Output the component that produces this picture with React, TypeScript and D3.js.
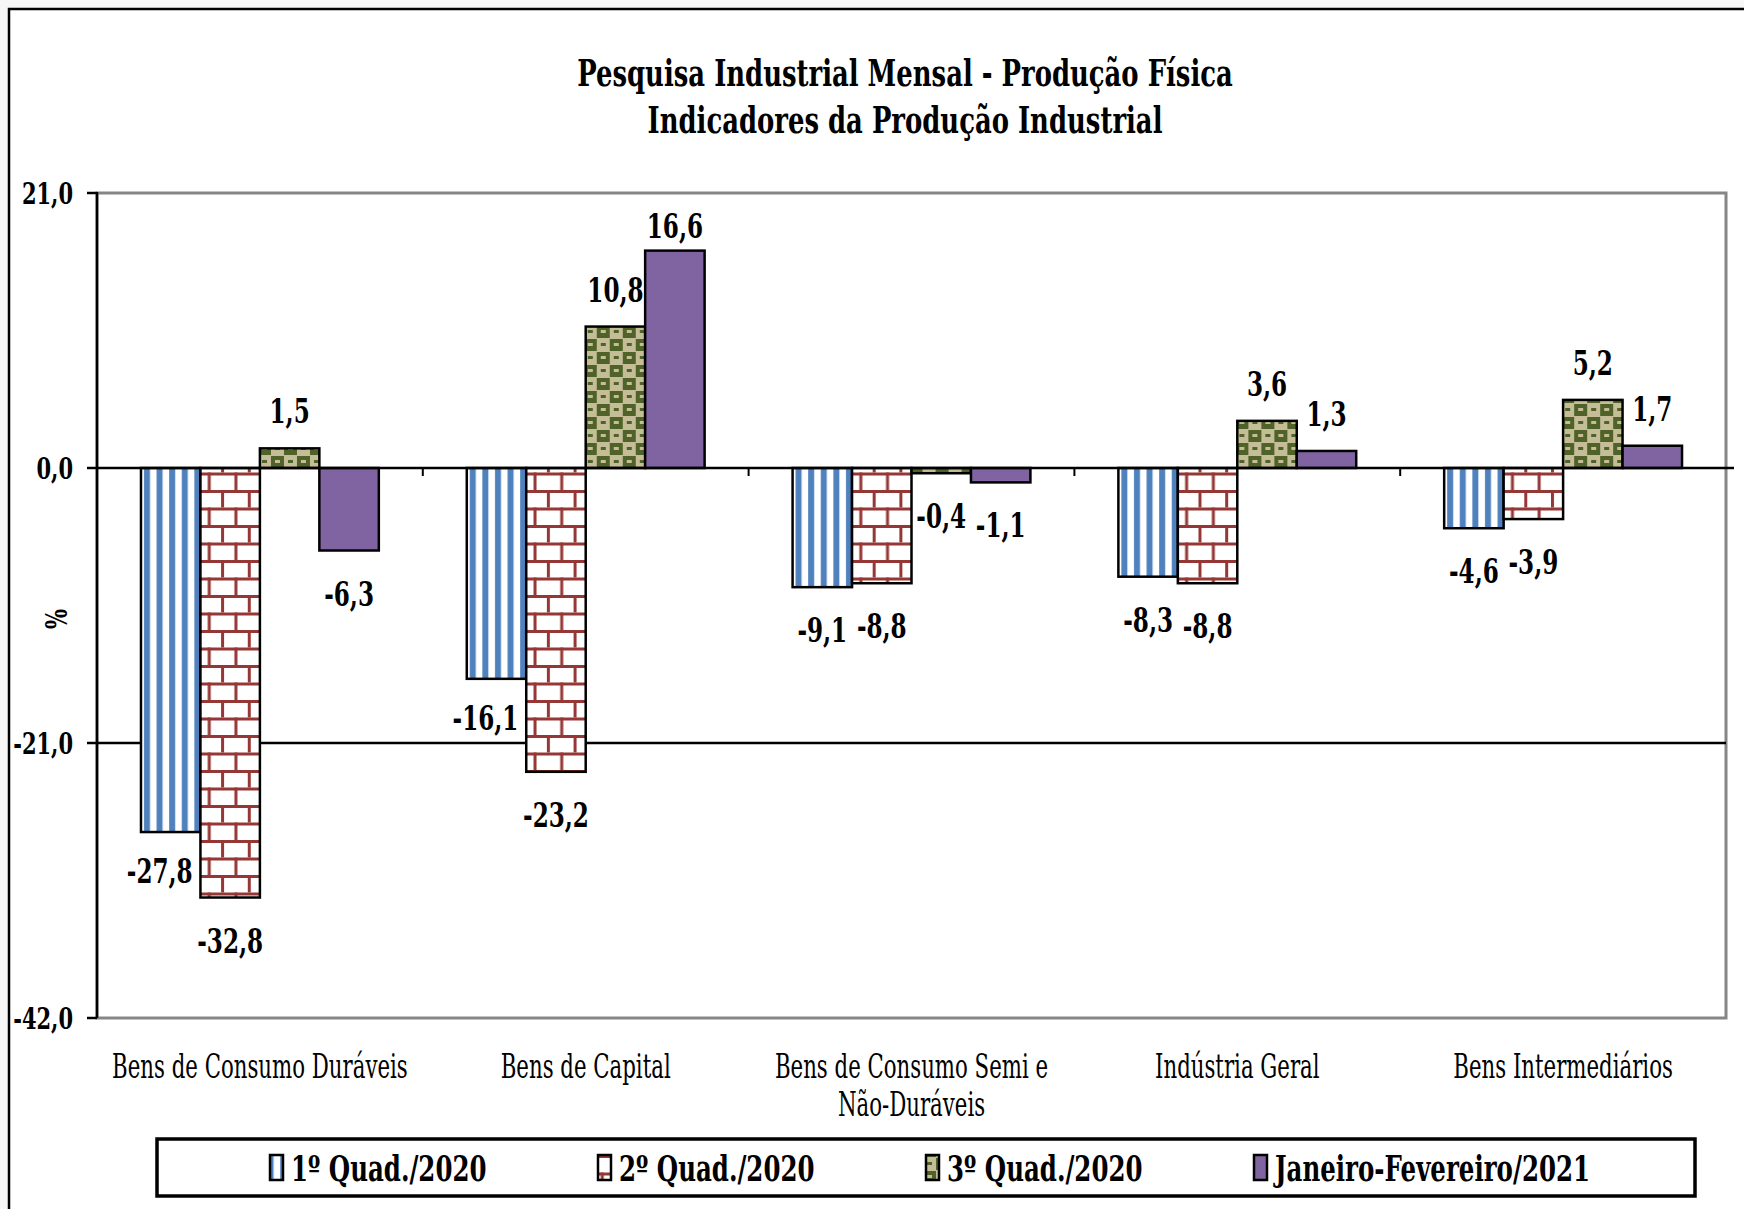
import React from 'react';
import * as d3 from 'd3';

// categories (x axis) and the line breaks used under the axis
const categories = [
  'Bens de Consumo Duráveis',
  'Bens de Capital',
  'Bens de Consumo Semi e Não-Duráveis',
  'Indústria Geral',
  'Bens Intermediários',
];
const categoryLines = [
  ['Bens de Consumo Duráveis'],
  ['Bens de Capital'],
  ['Bens de Consumo Semi e', 'Não-Duráveis'],
  ['Indústria Geral'],
  ['Bens Intermediários'],
];

const seriesNames = ['1º Quad./2020', '2º Quad./2020', '3º Quad./2020', 'Janeiro-Fevereiro/2021'];
const q1_2020 = [-27.8, -16.1, -9.1, -8.3, -4.6];
const q2_2020 = [-32.8, -23.2, -8.8, -8.8, -3.9];
const q3_2020 = [1.5, 10.8, -0.4, 3.6, 5.2];
const janFev2021 = [-6.3, 16.6, -1.1, 1.3, 1.7];
const yTicks = [21, 0, -21, -42];

const seriesValues = [q1_2020, q2_2020, q3_2020, janFev2021];
const seriesFill = ['url(#pStripe)', 'url(#pBrick)', 'url(#pCheck)', '#8064A2'];

const W = 1744;
const H = 1209;
const margin = { left: 97, right: 18, top: 193, bottom: 191 };
const FONT = '"DejaVu Serif", serif';

const fmt = (v: number) => d3.format('.1f')(v).replace('.', ',').replace('−', '-');

// horizontal squeeze, the original font is a narrow one
const SQ = 0.7;

const Txt: React.FC<{
  x: number; y: number; size: number; bold?: boolean; anchor?: string; sq?: number; children: React.ReactNode;
}> = ({ x, y, size, bold, anchor = 'middle', sq = SQ, children }) => (
  <text
    transform={`translate(${x},${y}) scale(${sq},1)`}
    textAnchor={anchor}
    fontFamily={FONT}
    fontSize={size}
    fontWeight={bold ? 'bold' : 'normal'}
    fill="#000"
  >
    {children}
  </text>
);

const App: React.FC = () => {
  const plotRight = W - margin.right;
  const plotBottom = H - margin.bottom;

  const x0 = d3.scaleBand<string>()
    .domain(categories)
    .range([margin.left, plotRight])
    .paddingInner(0.27)
    .paddingOuter(0.135);

  const x1 = d3.scaleBand<string>()
    .domain(seriesNames)
    .range([0, x0.bandwidth()]);

  const y = d3.scaleLinear()
    .domain([-42, 21])
    .range([plotBottom, margin.top]);

  const step = x0.step();

  return (
    <div style={{ position: 'absolute', left: 0, top: 0 }}>
      <svg width={W} height={H} style={{ display: 'block' }}>
        <defs>
          <pattern id="pStripe" patternUnits="userSpaceOnUse" width={12.6} height={10}>
            <rect width={12.6} height={10} fill="#fff" />
            <rect x={3} width={6} height={10} fill="#4F81BD" />
          </pattern>
          <pattern id="pBrick" patternUnits="userSpaceOnUse" width={26.7} height={35}>
            <rect width={26.7} height={35} fill="#fff" />
            <rect y={0} width={26.7} height={3} fill="#953735" />
            <rect y={17.5} width={26.7} height={3} fill="#953735" />
            <rect x={0} y={0} width={3} height={17.5} fill="#953735" />
            <rect x={13.35} y={17.5} width={3} height={17.5} fill="#953735" />
          </pattern>
          <pattern id="pCheck" patternUnits="userSpaceOnUse" width={26} height={26}>
            <rect width={26} height={26} fill="#4F6228" />
            <rect x={0} y={0} width={13} height={14} fill="#C4BD97" />
            <rect x={13} y={13} width={13} height={13} fill="#C4BD97" />
            <rect x={13} y={0} width={13} height={1} fill="#C4BD97" />
            <rect x={4} y={5} width={5} height={3} fill="#4F6228" />
            <rect x={17} y={18} width={5} height={3} fill="#4F6228" />
            <rect x={17} y={5} width={5} height={3} fill="#C4BD97" />
            <rect x={4} y={18} width={5} height={3} fill="#C4BD97" />
          </pattern>
        </defs>

        <rect width={W} height={H} fill="#f7f7f7" />
        <rect x={9} y={9} width={W + 20} height={H + 20} fill="#fff" stroke="#000" strokeWidth={2.5} />

        {/* title */}
        <Txt x={905} y={86} size={37} bold>Pesquisa Industrial Mensal - Produção Física</Txt>
        <Txt x={905} y={133} size={37} bold>Indicadores da Produção Industrial</Txt>

        {/* plot area border */}
        <rect
          x={margin.left}
          y={margin.top}
          width={plotRight - margin.left}
          height={plotBottom - margin.top}
          fill="none"
          stroke="#868686"
          strokeWidth={3}
        />
        {/* gridline at -21 */}
        <line x1={margin.left} x2={plotRight} y1={y(-21)} y2={y(-21)} stroke="#000" strokeWidth={2.5} />

        {/* bars */}
        {categories.map((cat, ci) => (
          <g key={cat} transform={`translate(${x0(cat)},0)`}>
            {seriesNames.map((s, si) => {
              const v = seriesValues[si][ci];
              const top = y(Math.max(0, v));
              const h = Math.abs(y(v) - y(0));
              return (
                <rect
                  key={s}
                  x={x1(s)}
                  y={top}
                  width={x1.bandwidth()}
                  height={h}
                  fill={seriesFill[si]}
                  stroke="#000"
                  strokeWidth={2.5}
                />
              );
            })}
          </g>
        ))}

        {/* category axis at zero */}
        <line x1={margin.left} x2={plotRight + 8} y1={y(0)} y2={y(0)} stroke="#000" strokeWidth={2.5} />
        {d3.range(1, categories.length).map((k) => (
          <line
            key={k}
            x1={margin.left + step * k}
            x2={margin.left + step * k}
            y1={y(0)}
            y2={y(0) + 8}
            stroke="#000"
            strokeWidth={2}
          />
        ))}

        {/* value axis */}
        <line x1={margin.left} x2={margin.left} y1={margin.top - 1} y2={plotBottom} stroke="#000" strokeWidth={2.5} />
        {yTicks.map((t) => (
          <g key={t}>
            <line x1={margin.left - 10} x2={margin.left} y1={y(t)} y2={y(t)} stroke="#000" strokeWidth={2.5} />
            <Txt x={73} y={y(t) + 11} size={30} bold anchor="end">{fmt(t)}</Txt>
          </g>
        ))}
        <text
          transform={`translate(67,619) rotate(-90) scale(${SQ},1)`}
          textAnchor="middle"
          fontFamily={FONT}
          fontSize={30}
          fontWeight="bold"
        >
          %
        </text>

        {/* data labels */}
        {categories.map((cat, ci) =>
          seriesNames.map((s, si) => {
            const v = seriesValues[si][ci];
            let cx = (x0(cat) ?? 0) + (x1(s) ?? 0) + x1.bandwidth() / 2;
            let cy = v >= 0 ? Math.max(y(v) - 37, margin.top + 33) : y(v) + 43;
            // keep a negative label clear of a deeper bar on its right
            const next = seriesValues[si + 1]?.[ci];
            if (v < 0 && next !== undefined && y(next) > cy + 10) {
              cx -= 11;
              cy -= 4;
            }
            return (
              <Txt key={cat + s} x={cx} y={cy + 12} size={33} bold>
                {fmt(v)}
              </Txt>
            );
          })
        )}

        {/* category labels */}
        {categories.map((cat, ci) => (
          <g key={cat}>
            {categoryLines[ci].map((ln, li) => (
              <Txt key={li} x={(x0(cat) ?? 0) + x0.bandwidth() / 2} y={1078 + li * 38} size={33} sq={0.645}>
                {ln}
              </Txt>
            ))}
          </g>
        ))}

        {/* legend */}
        <rect x={157} y={1139} width={1538} height={57} fill="#fff" stroke="#000" strokeWidth={3.5} />
        {seriesNames.map((s, si) => {
          const lx = 270 + si * 328;
          return (
            <g key={s}>
              <rect x={lx} y={1155} width={13} height={25} fill={seriesFill[si]} stroke="#000" strokeWidth={2.5} />
              <Txt x={lx + 21} y={1181} size={35} bold anchor="start">{s}</Txt>
            </g>
          );
        })}
      </svg>
    </div>
  );
};

export default App;
